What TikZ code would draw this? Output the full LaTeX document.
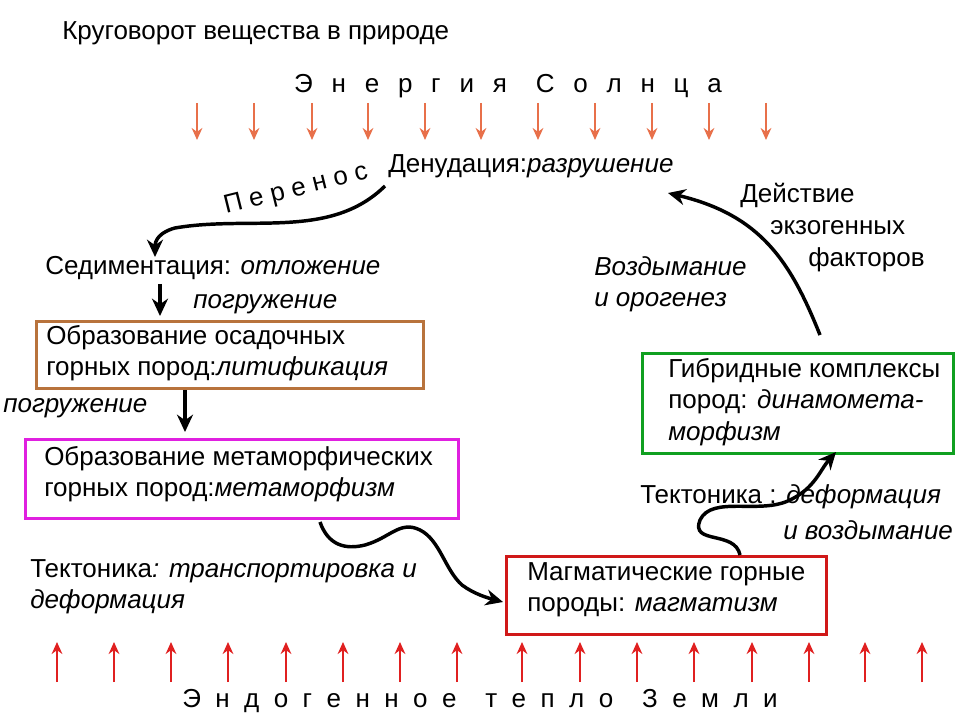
\documentclass[tikz,border=0pt]{standalone}
\usepackage{fontspec}
\setmainfont{Liberation Sans}
\usetikzlibrary{arrows.meta}
\definecolor{sun}{HTML}{E8704A}
\definecolor{heat}{HTML}{E02020}
\definecolor{brownb}{HTML}{B8733C}
\definecolor{magb}{HTML}{E020E0}
\definecolor{redb}{HTML}{D01818}
\definecolor{greenb}{HTML}{10A020}
\begin{document}
\begin{tikzpicture}[x=0.75pt,y=-0.75pt,
  txt/.style={font=\fontsize{19.5}{23.5}\selectfont,inner sep=0pt,anchor=west,align=left},
  boxx/.style={draw,line width=2.4pt},
  sunarr/.style={sun,line width=2.1pt,-{Stealth[length=9pt,width=8pt]}},
  heatarr/.style={heat,line width=2.1pt,-{Stealth[length=9pt,width=8pt]}},
  flow/.style={line width=2.6pt,-{Stealth[length=13pt,width=12pt]}}]
\useasboundingbox (0,0) rectangle (960,720);
\node[txt] (title) at (62,33) {Круговорот вещества в природе};
\node[txt,anchor=center] (sun) at (508,86) {Э\ \ \,н\ \ \,е\ \ \,р\ \ \,г\ \ \,и\ \ \,я\ \ \ \ С\ \ \,о\ \ \,л\ \ \,н\ \ \,ц\ \ \,а};
\foreach \x in {197,254,312,368,425,481,538,595,652,709,766}
  \draw[sunarr] (\x,103) -- (\x,140);
\node[txt] (den) at (388,166) {Денудация:\textit{разрушение}};
\node[txt,anchor=center,rotate=14] (per) at (296,190) {П\ е\ р\ е\ н\ о\ с};
\coordinate (d1) at (385,186);
\coordinate (d2) at (155,257);
\draw[flow] (d1) .. controls (330,240) and (250,215) .. (175,228) .. controls (160,232) and (155,240) .. (d2);
\node[txt] (sed) at (45,268) {Седиментация: \textit{отложение}};
\draw[flow] (160,284) -- (160,316);
\node[txt] (pog1) at (193,304) {\textit{погружение}};
\node[boxx,draw=brownb,minimum width=387*0.75pt,minimum height=67*0.75pt,anchor=north west,inner sep=0pt] (bb) at (35,320) {};
\node[txt] (bt) at (46,353) {Образование осадочных\\горных пород:\textit{литификация}};
\node[txt] (pog2) at (3,408) {\textit{погружение}};
\draw[flow] (185,390) -- (185,432);
\node[boxx,draw=magb,minimum width=433*0.75pt,minimum height=79*0.75pt,anchor=north west,inner sep=0pt] (mb) at (24,438) {};
\node[txt] (mt) at (44,474) {Образование метаморфических\\горных пород:\textit{метаморфизм}};
\node[txt] (tek1) at (30,587) {Тектоника\textit{: транспортировка и}\\\textit{деформация}};
\node[boxx,draw=redb,minimum width=320*0.75pt,minimum height=78*0.75pt,anchor=north west,inner sep=0pt] (rb) at (505,555) {};
\node[txt] (rt) at (527,590) {Магматические горные\\породы: \textit{магматизм}};
\draw[flow] (320,522) .. controls (328,545) and (345,550) .. (365,545) .. controls (390,538) and (400,520) .. (420,530) .. controls (440,540) and (445,570) .. (462,585) .. controls (474,594) and (488,598) .. (503,602);
\node[boxx,draw=greenb,minimum width=311*0.75pt,minimum height=100*0.75pt,anchor=north west,inner sep=0pt] (gb) at (641,352) {};
\node[txt] (gt) at (668,402) {Гибридные комплексы\\пород: \textit{динамомета-}\\\textit{морфизм}};
\node[txt] (tek2) at (640,497) {Тектоника : \textit{деформация}};
\node[txt] (vozd) at (783,530) {\textit{и воздымание}};
\draw[flow] (740,555) .. controls (735,530) and (690,545) .. (700,520) .. controls (712,495) and (760,515) .. (790,500) .. controls (815,488) and (820,470) .. (836,452);
\node[txt] (oro) at (594,284) {\textit{Воздымание}\\\textit{и орогенез}};
\draw[flow] (820,335) .. controls (790,260) and (760,215) .. (668,193);
\node[txt] (d1t) at (740,195) {Действие};
\node[txt] (d2t) at (770,228) {экзогенных};
\node[txt] (d3t) at (808,260) {факторов};
\foreach \x in {57,114,171,228,286,343,400,457,522,580,637,694,752,809,865,922}
  \draw[heatarr] (\x,682) -- (\x,642);
\node[txt,anchor=center] (earth) at (480,701) {Э\ \ н\ \ д\ \ о\ \ г\ \ е\ \ н\ \ н\ \ о\ \ е\ \ \ \ т\ \ е\ \ п\ \ л\ \ о\ \ \ \ З\ \ е\ \ м\ \ л\ \ и};
\end{tikzpicture}
\end{document}
